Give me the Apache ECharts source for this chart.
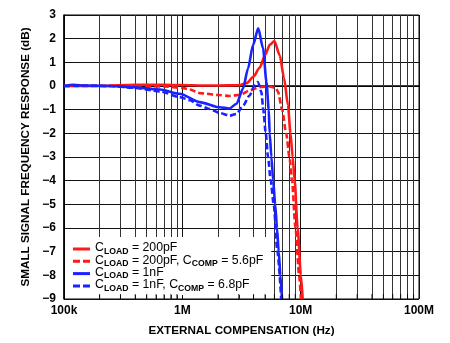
<!DOCTYPE html>
<html>
<head>
<meta charset="utf-8">
<script src="https://cdn.jsdelivr.net/npm/echarts@6/dist/echarts.min.js"></script>
<style>
html,body{margin:0;padding:0;background:#fff;}
#c{width:450px;height:343px;}
</style>
</head>
<body>
<div id="c"></div>
<script>
// ---- data ----
const seriesNames = ['CLOAD = 200pF', 'CLOAD = 200pF, CCOMP = 5.6pF', 'CLOAD = 1nF', 'CLOAD = 1nF, CCOMP = 6.8pF'];
const legendLabels = [
  '{a|C}{b|LOAD}{a| = 200pF}',
  '{a|C}{b|LOAD}{a| = 200pF, C}{b|COMP}{a| = 5.6pF}',
  '{a|C}{b|LOAD}{a| = 1nF}',
  '{a|C}{b|LOAD}{a| = 1nF, C}{b|COMP}{a| = 6.8pF}'
];

const red200Freq = [1e5, 2e5, 4e5, 7e5, 1e6, 1.5e6, 2e6, 3e6, 3.5e6, 4e6, 4.5e6, 5e6, 5.5e6, 6e6, 6.65e6, 7.23e6, 7.81e6, 8.2e6, 8.56e6, 8.9e6, 9.43e6, 10.04e6, 10.4e6];
const red200Db   = [0, 0, 0.05, 0.05, 0.04, 0.02, 0.02, 0.03, 0.12, 0.4, 0.77, 1.3, 1.75, 1.9, 1.3, 0.35, -0.8, -2, -3, -4, -6, -8, -9];

const red200CFreq = [1e5, 4e5, 7e5, 1e6, 1.16e6, 1.4e6, 2e6, 2.5e6, 3.1e6, 3.7e6, 4.5e6, 5.5e6, 6.2e6, 6.43e6, 6.98e6, 7.54e6, 8.04e6, 8.45e6, 9.04e6, 9.71e6, 10.05e6];
const red200CDb   = [0, 0, -0.02, -0.08, -0.15, -0.3, -0.38, -0.42, -0.37, -0.19, -0.05, -0.02, -0.1, -0.25, -1, -2, -3, -4, -6, -8, -9];

const blue1nFreq = [1e5, 1.2e5, 1.5e5, 2.5e5, 3.8e5, 6.5e5, 9.5e5, 1.4e6, 2.07e6, 2.5e6, 2.87e6, 3.26e6, 3.59e6, 3.96e6, 4.38e6, 4.81e6, 5.14e6, 5.37e6, 5.47e6, 5.66e6, 5.86e6, 6.09e6, 6.31e6, 6.52e6, 6.74e6, 6.96e6];
const blue1nDb   = [0, 0.05, 0.02, 0, -0.05, -0.15, -0.33, -0.68, -0.9, -0.95, -0.75, -0.11, 0.74, 1.73, 2.44, 1.59, 0.17, -1, -2, -3, -4, -5, -6, -7, -8, -9];

const blue1nCFreq = [1e5, 1.5e5, 2.5e5, 3.8e5, 6.5e5, 9.5e5, 1.16e6, 1.4e6, 1.7e6, 2.1e6, 2.52e6, 2.87e6, 3.26e6, 3.7e6, 4.08e6, 4.35e6, 4.66e6, 4.83e6, 5.07e6, 5.3e6, 5.58e6, 5.92e6, 6.36e6, 6.85e6];
const blue1nCDb   = [0, 0.02, 0, -0.07, -0.23, -0.47, -0.6, -0.83, -0.97, -1.15, -1.25, -1.18, -0.83, -0.4, 0.03, 0.17, -0.26, -1, -2, -3, -4, -5, -7, -9];

const xTickValues = [1e5, 1e6, 1e7, 1e8];
const xTickLabels = ['100k', '1M', '10M', '100M'];
const minorMultipliers = [2, 3, 4, 5, 6, 7, 8, 9];
const decades = [1e5, 1e6, 1e7];
const yMin = -9, yMax = 3, yStep = 1;

const xTitle = 'EXTERNAL COMPENSATION (Hz)';
const yTitle = 'SMALL SIGNAL FREQUENCY RESPONSE (dB)';

// ---- build ----
const RED = '#ff1a1a', BLUE = '#1a22ff';
const ICON_SOLID = 'path://M0,0H17V3H0Z';
const ICON_DASH = 'path://M0,0H7V3H0Z M10,0H17V3H10Z';
const zip = (a, b) => a.map((v, i) => [v, b[i]]);
const minorFreqs = [];
decades.forEach(d => minorMultipliers.forEach(m => minorFreqs.push(d * m)));

const FONT = 'Liberation Sans, Arial, sans-serif';

function curve(name, freq, db, color, dashed) {
  return {
    name: name, type: 'line', data: zip(freq, db),
    showSymbol: false, symbol: 'none', smooth: 0.25, smoothMonotone: 'x',
    lineStyle: { color: color, width: 2.6, type: dashed ? [6, 3] : 'solid' },
    itemStyle: { color: color },
    silent: true, z: 3
  };
}

const chart = echarts.init(document.getElementById('c'), null, { renderer: 'canvas' });
chart.setOption({
  animation: false,
  backgroundColor: '#fff',
  grid: { left: 64, right: 31, top: 15, bottom: 44, show: true, borderColor: '#000', borderWidth: 1 },
  xAxis: {
    type: 'log', logBase: 10, min: xTickValues[0], max: xTickValues[xTickValues.length - 1],
    splitNumber: 3,
    axisLine: { show: true, lineStyle: { color: '#000', width: 1.5 } },
    axisTick: { show: false },
    axisLabel: {
      margin: 6, color: '#000', fontFamily: FONT, fontSize: 12, fontWeight: 'bold',
      formatter: v => { const i = Math.round(Math.log10(v)) - 5; return xTickLabels[i] || ''; }
    },
    splitLine: { show: true, lineStyle: { color: '#111', width: 1 } },
    name: xTitle, nameLocation: 'middle', nameGap: 26,
    nameTextStyle: { color: '#000', fontFamily: FONT, fontSize: 11.7, fontWeight: 'bold' }
  },
  yAxis: {
    type: 'value', min: yMin, max: yMax, interval: yStep,
    axisLine: { show: true, lineStyle: { color: '#000', width: 1.5 } },
    axisTick: { show: false },
    axisLabel: {
      margin: 8, color: '#000', fontFamily: FONT, fontSize: 12, fontWeight: 'bold',
      formatter: v => String(v).replace('-', '\u2212')
    },
    splitLine: { show: true, lineStyle: { color: '#111', width: 1 } },
    name: yTitle, nameLocation: 'middle', nameGap: 29,
    nameTextStyle: { color: '#000', fontFamily: FONT, fontSize: 11.7, fontWeight: 'bold' }
  },
  legend: {
    data: seriesNames.map((n, i) => ({ name: n, icon: i % 2 ? ICON_DASH : ICON_SOLID })),
    orient: 'vertical', left: 65, top: 237,
    padding: [5, 8, 2, 8], itemGap: -1.7, itemWidth: 17, itemHeight: 3, itemTextGap: 5,
    backgroundColor: '#fff', borderWidth: 0,
    formatter: name => legendLabels[seriesNames.indexOf(name)],
    textStyle: {
      color: '#000', fontFamily: FONT,
      rich: {
        a: { fontSize: 12.3, fontFamily: FONT, color: '#000', lineHeight: 14, verticalAlign: 'top' },
        b: { fontSize: 8.7, fontFamily: FONT, fontWeight: 'bold', color: '#000', lineHeight: 9, verticalAlign: 'bottom' }
      }
    },
    selectedMode: false, z: 6
  },
  series: [
    {
      name: 'minorGrid', type: 'line', data: [], silent: true, z: 1,
      markLine: {
        silent: true, symbol: 'none', animation: false, z: 1,
        label: { show: false },
        lineStyle: { color: '#333', width: 1, type: 'solid' },
        data: minorFreqs.map(f => ({ xAxis: f }))
      }
    },
    curve(seriesNames[0], red200Freq, red200Db, RED, false),
    curve(seriesNames[1], red200CFreq, red200CDb, RED, true),
    curve(seriesNames[2], blue1nFreq, blue1nDb, BLUE, false),
    curve(seriesNames[3], blue1nCFreq, blue1nCDb, BLUE, true),
    {
      name: 'minorTicks', type: 'scatter', silent: true, z: 10,
      data: minorFreqs.map(f => [f, yMin]),
      symbol: 'rect', symbolSize: [1, 5], symbolOffset: [0, -2.5],
      itemStyle: { color: '#000' }
    }
  ]
});
</script>
</body>
</html>
